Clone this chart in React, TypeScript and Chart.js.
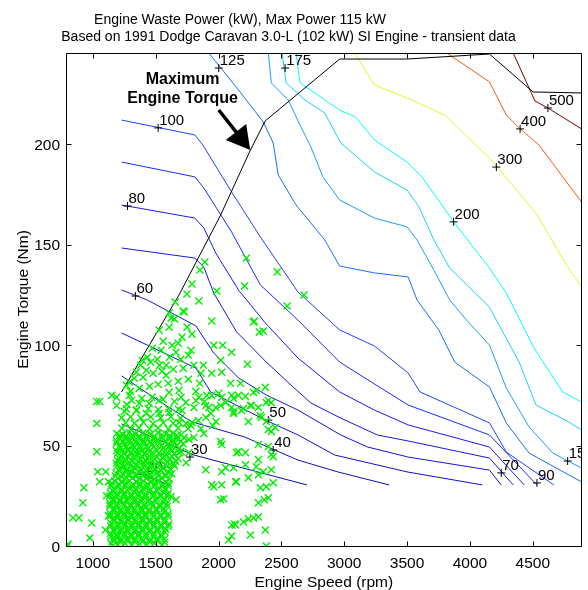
import React, { useEffect, useRef } from 'react';
import { Chart, registerables } from 'chart.js';

Chart.register(...registerables);

// ---------- axes ----------
const xTicks = [1000, 1500, 2000, 2500, 3000, 3500, 4000, 4500];
const yTicks = [0, 50, 100, 150, 200];
const xRange = [787, 4888];
const yRange = [0, 245.5];

const titleLine1 = 'Engine Waste Power (kW), Max Power 115 kW';
const titleLine2 = 'Based on 1991 Dodge Caravan 3.0-L (102 kW) SI Engine - transient data';
const xTitle = 'Engine Speed (rpm)';
const yTitle = 'Engine Torque (Nm)';

// ---------- contour lines (rpm, Nm) ----------
const contourLevels = [20, 30, 40, 50, 60, 70, 80, 90, 100, 125, 150, 175, 200, 300, 400, 500];
const contourColors = ['#0a0a9a', '#0c0cab', '#0f0fbd', '#1111cc', '#1414db', '#1717e8', '#1a1af5', '#1a2cff', '#1f44ff', '#1a6eff', '#1aa0ff', '#1ad2ff', '#00ffff', '#d4ff2b', '#ff5a10', '#800000'];

const c20 = [[1229, 38.8], [1615, 30.4]];
const c30 = [[1229, 60.8], [1804, 45.3], [2703, 30.4]];
const c40 = [[1229, 84.7], [1552, 71.2], [1789, 61.8], [2207, 54.3], [2632, 42.8], [2948, 36.9], [3358, 30.4]];
const c50 = [[1229, 106.1], [1820, 88.6], [1938, 76.7], [2372, 62.7], [2632, 55.3], [2924, 45.3], [3500, 36.9], [4099, 30.4]];
const c60 = [[1229, 127.5], [1434, 122.5], [1820, 109.6], [1962, 96.1], [2159, 83.7], [2380, 75.2], [2632, 67.7], [2972, 55.3], [3185, 49.3], [3508, 44.3], [4155, 37.8], [4249, 30.4]];
const c70 = [[1229, 148.4], [1812, 143.4], [1883, 138.9], [1962, 126.0], [2144, 106.6], [2380, 91.6], [2593, 79.2], [2735, 71.2], [2972, 63.7], [3263, 55.3], [3508, 52.3], [4155, 43.8], [4344, 30.4]];
const c80 = [[1229, 169.8], [1812, 163.3], [1883, 158.4], [1978, 145.9], [2159, 127.5], [2372, 111.1], [2632, 93.6], [2964, 76.7], [3240, 67.7], [3508, 60.3], [4155, 49.3], [4431, 30.4]];
const c90 = [[1229, 191.2], [1812, 183.8], [1883, 178.3], [2104, 156.4], [2333, 130.0], [2632, 112.5], [2964, 91.6], [3240, 80.7], [3508, 70.2], [4155, 55.3], [4533, 30.4]];
const c100 = [[1229, 212.1], [1812, 204.7], [1875, 199.7], [2104, 176.3], [2333, 153.9], [2632, 126.5], [2964, 107.6], [3240, 99.6], [3508, 86.2], [3603, 76.7], [4155, 61.3], [4289, 46.8], [4667, 30.4]];
const c125 = [[1923, 245.5], [2159, 227.1], [2356, 211.2], [2435, 200.7], [2475, 184.8], [2617, 169.8], [2845, 152.4], [2964, 139.4], [3240, 136.0], [3508, 134.0], [3579, 122.5], [3752, 107.6], [3879, 91.6], [4155, 79.2], [4289, 61.3], [4470, 46.3], [4888, 31.9]];
const c150 = [[2396, 245.5], [2420, 230.6], [2554, 222.1], [2648, 209.7], [2735, 198.7], [2830, 183.8], [2964, 172.3], [3240, 163.3], [3500, 158.9], [3579, 152.4], [3713, 137.4], [3839, 122.5], [3973, 112.5], [4155, 100.1], [4289, 78.7], [4470, 59.3], [4659, 46.3], [4888, 38.8]];
const c175 = [[2506, 245.5], [2538, 230.6], [2688, 222.1], [2845, 215.6], [2972, 200.7], [3240, 186.3], [3500, 177.3], [3595, 168.8], [3713, 152.4], [3839, 138.4], [4155, 119.0], [4210, 112.5], [4391, 91.6], [4525, 70.2], [4785, 61.8], [4888, 57.8]];
const c200 = [[2617, 245.5], [2648, 230.6], [2964, 217.1], [3090, 213.6], [3240, 202.2], [3500, 191.2], [3618, 183.8], [3871, 161.4], [4155, 138.4], [4289, 126.0], [4509, 98.6], [4738, 76.7], [4888, 71.7]];
const c300 = [[3082, 245.5], [3240, 229.6], [3500, 223.1], [3800, 214.6], [4155, 193.2], [4525, 165.8], [4777, 138.9], [4888, 129.0]];
const c400 = [[3816, 245.5], [4155, 231.1], [4289, 214.6], [4399, 207.7], [4549, 199.7], [4738, 183.8], [4888, 171.3]];
const c500 = [[4344, 245.5], [4517, 221.6], [4620, 218.1], [4888, 207.7]];
const contourLines = [c20, c30, c40, c50, c60, c70, c80, c90, c100, c125, c150, c175, c200, c300, c400, c500];

// contour labels ('+' position)
const labelTexts = ['125', '175', '100', '80', '60', '50', '40', '30', '20', '70', '90', '150', '200', '300', '400', '500'];
const labelRpm = [2002, 2530, 1520, 1276, 1339, 2396, 2435, 1773, 1418, 4249, 4533, 4777, 3870, 4210, 4399, 4620];
const labelNm = [238, 238, 208.2, 169.3, 124.5, 62.7, 47.8, 44.3, 35.4, 36.4, 31.4, 42.3, 161.4, 188.7, 207.7, 218.1];

// maximum torque curve
const maxTorque = [[1229, 76.7], [1686, 125.0], [2017, 164.8], [2254, 197.2], [2372, 211.7], [2964, 242.5], [3500, 242.5], [4155, 245.0], [4502, 226.1], [4888, 225.6]];

// annotation
const annotationLines = ['Maximum', 'Engine Torque'];
const annotationAt = [[1714, 229.9], [1714, 220.5]];
const arrowTail = [2002, 217.1];
const arrowTip = [2252, 197.2];

// transient operating points (rpm, Nm)
const operatingPoints = [
  [795, 0], [803, 1], [842, 14], [890, 14], [921, 21.5], [992, 11.5], [976, 4], [1032, 61], [1032, 47], [1039, 37], [1103, 37], [1055, 32], [1126, 32], [1158, 0], [1055, 72], [1032, 72], [1150, 75], [1189, 74], [1189, 70], [1252, 67], [929, 29], [1110, 25], [1125, 15], [1100, 8], [1135, 20],
  [1891, 141.4], [1852, 137.4], [2222, 143.4], [2467, 136.5], [1789, 130.5], [2207, 129.5], [1986, 127], [2680, 125], [2546, 119.5], [1655, 121.5], [1749, 125.5], [1844, 122], [1718, 117], [1607, 116], [1623, 113.5], [1946, 112], [2285, 112], [2325, 106.5], [2356, 107], [1607, 109], [1789, 105.5], [1710, 104], [1528, 107.5],
  [1962, 100], [2033, 100], [2104, 96.5], [1781, 97.5], [1631, 100], [1662, 96.5], [1544, 97.5], [1473, 98.5], [1434, 94], [1394, 92.5], [1513, 93], [2230, 90.5], [2017, 92.5], [1804, 90], [1860, 86], [1946, 86], [2025, 86.5], [1584, 90], [1584, 85], [1426, 87.5], [1347, 86.5], [1292, 81.5], [1268, 80],
  [2096, 81], [2175, 81], [2301, 77.5], [2372, 79], [2380, 71.5], [2420, 71.5], [2214, 74.5], [2159, 75], [2104, 75], [2002, 76], [1907, 75], [1820, 77], [1686, 77.5], [1607, 76.5], [1528, 72.5], [1449, 71], [1371, 71], [1292, 75], [1347, 67.5], [1426, 66], [1528, 66], [1607, 66.5], [1710, 67.5], [1804, 69], [1899, 70], [1978, 69], [2057, 71.5], [2120, 66], [2183, 67.5], [2254, 70], [2317, 69], [2333, 65],
  [1726, 116.5], [2278, 111.5], [1946, 75], [2025, 74], [2120, 73.5], [2278, 76.5], [2396, 72.5], [1702, 74], [1844, 74], [1923, 69], [2017, 70], [2104, 69], [2199, 68.5],
  [1686, 61.5], [1742, 61], [1789, 61.5], [1883, 56], [2017, 52], [2025, 50.5], [2143, 46.5], [2214, 46.5], [2317, 50.5], [2396, 58], [2380, 62], [2341, 64], [2451, 59], [2238, 62], [1765, 53], [1726, 54], [1804, 54], [1686, 46.5], [1765, 46.5], [1742, 41.5],
  [1899, 38], [2025, 37], [2120, 39], [2214, 40.5], [2317, 43], [2420, 38], [2356, 37], [1946, 30.5], [2025, 30.5], [2143, 32], [2238, 34], [2317, 35.5], [2435, 31.5], [2380, 29.5], [2120, 67], [2262, 70], [2420, 57], [2396, 49.5], [2159, 47], [2420, 45.5], [2435, 44.5], [2057, 39], [2301, 39.5], [1962, 29.5], [2136, 32], [2333, 29],
  [2017, 23], [2041, 23.5], [2317, 21.5], [2396, 24], [2364, 23], [2104, 10.5], [2136, 10.5], [2199, 12], [2238, 13.5], [2278, 14], [2317, 14.5], [2254, 5.5], [2372, 8], [2080, 3], [2380, 0], [1662, 23], [1623, 24.5], [1954, 60], [2128, 11], [2104, 5],
  [1270, 70.5], [1310, 72.5], [1390, 73.5], [1470, 74], [1560, 73], [1650, 72], [1740, 71.5], [1820, 72.5], [1890, 72],
  [1300, 77], [1370, 78.5], [1450, 79.5], [1520, 80.5], [1600, 81], [1680, 82], [1760, 83], [1850, 81],
  [1330, 83.5], [1400, 84], [1480, 86], [1550, 87], [1640, 88], [1720, 88.5], [1880, 90],
  [1380, 90], [1460, 91.5], [1530, 90], [1610, 94], [1700, 93], [1760, 95],
  [1560, 102], [1680, 101], [1750, 109], [1650, 113],
  [1780, 60], [1840, 62.5], [1900, 64], [1860, 58.5], [1940, 66], [1980, 62],
  [1231, 58.6], [1302, 58.1], [1368, 58.9], [1452, 58.3], [1519, 58.8], [1601, 58.2], [1679, 58.7], [1758, 58.4],
  [1262, 61.3], [1331, 61.1], [1402, 61.6], [1479, 60.9], [1561, 61.4], [1638, 61.2],
  [1229, 63.9], [1301, 64.3], [1382, 63.7], [1461, 64.2], [1539, 63.8], [1621, 64.4], [1698, 63.6],
  [1268, 68.2], [1349, 67.8], [1442, 68.4], [1521, 67.9], [1603, 68.3], [1681, 68.1],
  [1190, 56], [1238, 55.5], [1291, 56.5], [1342, 55.8], [1398, 56.2], [1461, 55.6], [1519, 56.4], [1583, 55.9], [1641, 56.3], [1702, 55.4],
  [1215, 55], [1268, 54.7], [1316, 55.2], [1370, 54.8], [1429, 55.1], [1490, 54.6], [1550, 55.3], [1612, 54.9], [1670, 55.1],
  [1214, 53.6], [1266, 53.2], [1318, 53.9], [1372, 53.4], [1431, 53.7], [1488, 53.1], [1552, 53.8], [1609, 53.3], [1668, 53.6],
  [1190, 52.3], [1240, 52.0], [1293, 52.6], [1345, 52.1], [1400, 52.4], [1458, 51.9], [1520, 52.5], [1578, 52.2], [1638, 52.4], [1700, 52.0],
  [1188, 51.2], [1251, 50.8], [1302, 51.4], [1353, 50.9], [1411, 51.3], [1469, 50.7], [1532, 51.1], [1596, 50.6], [1652, 51.3], [1718, 50.9],
  [1213, 49.9], [1265, 49.5], [1318, 50.1], [1372, 49.6], [1428, 49.8], [1486, 49.4], [1548, 50.0], [1606, 49.7], [1665, 49.9],
  [1219, 48.7], [1276, 48.2], [1331, 48.9], [1384, 48.4], [1442, 48.6], [1501, 48.1], [1561, 48.8], [1619, 48.3], [1689, 48.5],
  [1190, 47.4], [1233, 47.1], [1287, 47.6], [1340, 47.0], [1396, 47.3], [1452, 47.1], [1511, 47.5], [1570, 46.9], [1628, 47.2], [1700, 47.0],
  [1196, 46.2], [1247, 45.8], [1299, 46.4], [1352, 45.7], [1409, 46.1], [1466, 45.9], [1526, 46.3], [1584, 45.6], [1647, 46.0],
  [1222, 44.9], [1277, 44.5], [1334, 45.0], [1393, 44.6], [1450, 44.8], [1509, 44.4], [1570, 44.9], [1630, 44.7],
  [1211, 43.7], [1263, 43.2], [1321, 43.8], [1379, 43.3], [1436, 43.6], [1494, 43.1], [1556, 43.7], [1613, 43.4], [1679, 43.5],
  [1198, 42.4], [1255, 42.0], [1310, 42.5], [1364, 42.0], [1420, 42.3], [1478, 42.1], [1537, 42.6], [1595, 41.9], [1660, 42.2],
  [1189, 41.2], [1242, 40.8], [1296, 41.3], [1349, 40.7], [1406, 41.1], [1462, 40.9], [1521, 41.4], [1579, 40.6], [1641, 41.0],
  [1193, 39.9], [1244, 39.5], [1298, 40.0], [1354, 39.6], [1410, 39.9], [1469, 39.4], [1529, 39.9], [1590, 39.7], [1650, 39.8],
  [1216, 38.6], [1271, 38.2], [1326, 38.8], [1381, 38.3], [1439, 38.7], [1499, 38.1], [1559, 38.6], [1618, 38.4],
  [1212, 37.4], [1265, 37.0], [1318, 37.5], [1373, 36.9], [1428, 37.3], [1485, 37.1], [1544, 37.6], [1601, 36.9],
  [1186, 36.2], [1239, 35.8], [1291, 36.3], [1346, 35.7], [1401, 36.1], [1456, 35.9], [1514, 36.4], [1573, 35.6], [1628, 36.0],
  [1180, 34.9], [1230, 34.5], [1288, 35.0], [1343, 34.6], [1400, 34.9], [1460, 34.4], [1520, 34.9], [1580, 34.7],
  [1201, 33.6], [1259, 33.2], [1316, 33.8], [1371, 33.3], [1429, 33.7], [1489, 33.1], [1551, 33.6], [1609, 33.4],
  [1175, 32.4], [1235, 32.0], [1292, 32.5], [1348, 32.0], [1404, 32.3], [1464, 32.1], [1525, 32.6], [1580, 31.9],
  [1152, 31.2], [1209, 30.8], [1266, 31.3], [1321, 30.7], [1376, 31.1], [1434, 30.9], [1496, 31.4], [1554, 30.6], [1601, 31.0],
  [1145, 29.9], [1200, 29.5], [1258, 30.0], [1315, 29.6], [1372, 29.9], [1430, 29.4], [1490, 29.9], [1550, 29.7], [1600, 29.8],
  [1171, 28.6], [1229, 28.2], [1286, 28.8], [1344, 28.3], [1401, 28.7], [1459, 28.1], [1521, 28.6], [1579, 28.4],
  [1160, 27.4], [1222, 27.0], [1278, 27.5], [1333, 26.9], [1390, 27.3], [1450, 27.1], [1510, 27.6], [1568, 26.9],
  [1141, 26.2], [1196, 25.8], [1251, 26.3], [1306, 25.7], [1361, 26.1], [1419, 25.9], [1481, 26.4], [1539, 25.6], [1598, 26.0],
  [1135, 24.9], [1190, 24.5], [1248, 25.0], [1305, 24.6], [1362, 24.9], [1420, 24.4], [1480, 24.9], [1540, 24.7], [1595, 24.8],
  [1161, 23.6], [1219, 23.2], [1276, 23.8], [1334, 23.3], [1391, 23.7], [1451, 23.1], [1509, 23.6], [1571, 23.4],
  [1163, 22.4], [1218, 22.0], [1273, 22.5], [1328, 22.0], [1384, 22.3], [1440, 22.1], [1500, 22.6], [1560, 21.9],
  [1136, 21.2], [1191, 20.8], [1246, 21.3], [1301, 20.7], [1356, 21.1], [1411, 20.9], [1469, 21.4], [1531, 20.6], [1589, 21.0],
  [1140, 19.9], [1193, 19.5], [1248, 20.0], [1303, 19.6], [1358, 19.9], [1416, 19.4], [1476, 19.9], [1536, 19.7], [1592, 19.8],
  [1166, 18.6], [1221, 18.2], [1274, 18.8], [1331, 18.3], [1386, 18.7], [1444, 18.1], [1506, 18.6], [1566, 18.4],
  [1168, 17.4], [1223, 17.0], [1278, 17.5], [1333, 16.9], [1390, 17.3], [1448, 17.1], [1508, 17.6], [1568, 16.9],
  [1139, 16.2], [1196, 15.8], [1251, 16.3], [1304, 15.7], [1361, 16.1], [1419, 15.9], [1481, 16.4], [1541, 15.6], [1599, 16.0],
  [1140, 14.9], [1194, 14.5], [1252, 15.0], [1306, 14.6], [1362, 14.9], [1421, 14.4], [1481, 14.9], [1540, 14.7], [1598, 14.8],
  [1166, 13.6], [1224, 13.2], [1281, 13.8], [1336, 13.3], [1394, 13.7], [1451, 13.1], [1509, 13.6], [1571, 13.4],
  [1170, 12.4], [1226, 12.0], [1282, 12.5], [1338, 12.0], [1395, 12.3], [1452, 12.1], [1512, 12.6], [1572, 11.9],
  [1146, 11.2], [1201, 10.8], [1254, 11.3], [1311, 10.7], [1366, 11.1], [1424, 10.9], [1486, 11.4], [1544, 10.6], [1604, 11.0],
  [1143, 9.9], [1198, 9.5], [1252, 10.0], [1309, 9.6], [1366, 9.9], [1424, 9.4], [1484, 9.9], [1544, 9.7], [1600, 9.8],
  [1171, 8.6], [1226, 8.2], [1279, 8.8], [1339, 8.3], [1396, 8.7], [1454, 8.1], [1516, 8.6], [1579, 8.4],
  [1168, 7.4], [1222, 7.0], [1278, 7.5], [1336, 6.9], [1394, 7.3], [1453, 7.1], [1514, 7.6], [1574, 6.9],
  [1141, 6.2], [1194, 5.8], [1251, 6.3], [1306, 5.7], [1364, 6.1], [1424, 5.9], [1486, 6.4], [1546, 5.6],
  [1143, 4.9], [1196, 4.5], [1250, 5.0], [1306, 4.6], [1364, 4.9], [1424, 4.4], [1484, 4.9], [1546, 4.7],
  [1166, 3.6], [1221, 3.2], [1276, 3.8], [1334, 3.3], [1391, 3.7], [1451, 3.1], [1511, 3.6], [1569, 3.4],
  [1168, 2.4], [1222, 2.0], [1278, 2.5], [1336, 2.0], [1394, 2.3], [1452, 2.1], [1512, 2.6], [1570, 1.9],
  [1146, 1.2], [1199, 0.8], [1256, 1.3], [1309, 0.7], [1371, 1.1], [1429, 0.9], [1491, 1.4], [1551, 0.6],
];

const FONT = '"Liberation Sans", Arial, Helvetica, sans-serif';

const toXY = (arr: number[][]) => arr.map((p) => ({ x: p[0], y: p[1] }));

const overlayPlugin = {
  id: 'overlay',
  afterDatasetDraw(chart: any, args: any) {
    if (args.index !== 1) return;
    const { ctx, chartArea: a, scales } = chart;
    const xs = scales.x;
    const ys = scales.y;
    ctx.save();
    ctx.beginPath();
    ctx.rect(a.left, a.top, a.right - a.left, a.bottom - a.top);
    ctx.clip();
    ctx.fillStyle = '#000';
    ctx.font = `15px ${FONT}`;
    ctx.textAlign = 'left';
    ctx.textBaseline = 'alphabetic';
    labelTexts.forEach((t, i) => {
      const px = xs.getPixelForValue(labelRpm[i]);
      const py = ys.getPixelForValue(labelNm[i]);
      ctx.fillText(t, px + 1, py - 3);
    });
    ctx.restore();
  },
  afterDraw(chart: any) {
    const { ctx, chartArea: a, scales } = chart;
    const xs = scales.x;
    const ys = scales.y;
    ctx.save();
    // annotation text
    ctx.fillStyle = '#000';
    ctx.font = `bold 16px ${FONT}`;
    ctx.textAlign = 'center';
    ctx.textBaseline = 'alphabetic';
    annotationLines.forEach((t, i) => {
      ctx.fillText(t, xs.getPixelForValue(annotationAt[i][0]), ys.getPixelForValue(annotationAt[i][1]));
    });
    // arrow
    const tx = xs.getPixelForValue(arrowTail[0]);
    const ty = ys.getPixelForValue(arrowTail[1]);
    const hx = xs.getPixelForValue(arrowTip[0]);
    const hy = ys.getPixelForValue(arrowTip[1]);
    const ang = Math.atan2(hy - ty, hx - tx);
    const headLen = 23;
    const headHalf = 13;
    const bx = hx - headLen * Math.cos(ang);
    const by = hy - headLen * Math.sin(ang);
    ctx.strokeStyle = '#000';
    ctx.lineWidth = 3.5;
    ctx.beginPath();
    ctx.moveTo(tx, ty);
    ctx.lineTo(bx + Math.cos(ang), by + Math.sin(ang));
    ctx.stroke();
    ctx.beginPath();
    ctx.moveTo(hx, hy);
    ctx.lineTo(bx - headHalf * Math.sin(ang), by + headHalf * Math.cos(ang));
    ctx.lineTo(bx + headHalf * Math.sin(ang), by - headHalf * Math.cos(ang));
    ctx.closePath();
    ctx.fill();

    // axes box
    ctx.lineWidth = 1;
    const L = Math.floor(a.left) + 0.5;
    const R = Math.floor(a.right) + 0.5;
    const T = Math.floor(a.top) + 0.5;
    const B = Math.floor(a.bottom) + 0.5;
    ctx.beginPath();
    ctx.moveTo(L, T);
    ctx.lineTo(R, T);
    ctx.lineTo(R, B);
    ctx.lineTo(L, B);
    ctx.closePath();
    ctx.stroke();
    const tl = 5;
    ctx.beginPath();
    xTicks.forEach((v) => {
      const px = Math.round(xs.getPixelForValue(v)) + 0.5;
      ctx.moveTo(px, B);
      ctx.lineTo(px, B - tl);
      ctx.moveTo(px, T);
      ctx.lineTo(px, T + tl);
    });
    yTicks.forEach((v) => {
      const py = Math.round(ys.getPixelForValue(v)) + 0.5;
      ctx.moveTo(L, py);
      ctx.lineTo(L + tl, py);
      ctx.moveTo(R, py);
      ctx.lineTo(R - tl, py);
    });
    ctx.stroke();

    // tick labels
    ctx.font = `15.5px ${FONT}`;
    ctx.textAlign = 'center';
    xTicks.forEach((v) => {
      ctx.fillText(String(v), xs.getPixelForValue(v), 568);
    });
    ctx.textAlign = 'right';
    yTicks.forEach((v) => {
      ctx.fillText(String(v), 60, ys.getPixelForValue(v) + 5.5);
    });

    // axis titles
    ctx.textAlign = 'center';
    ctx.fillText(xTitle, (a.left + a.right) / 2, 587);
    ctx.save();
    ctx.translate(28, (a.top + a.bottom) / 2);
    ctx.rotate(-Math.PI / 2);
    ctx.fillText(yTitle, 0, 0);
    ctx.restore();

    // chart title
    ctx.font = `14px ${FONT}`;
    ctx.fillText(titleLine1, 240, 24);
    ctx.fillText(titleLine2, 288.5, 41);
    ctx.restore();
  },
};

export default function App() {
  const ref = useRef<HTMLCanvasElement>(null);
  useEffect(() => {
    const canvas = ref.current;
    if (!canvas) return;
    const contourDatasets = contourLines.map((pts, i) => ({
      label: `${contourLevels[i]} kW`,
      data: toXY(pts),
      showLine: true,
      borderColor: contourColors[i],
      backgroundColor: contourColors[i],
      borderWidth: 1,
      pointRadius: 0,
      tension: 0,
    }));
    const chart = new Chart(canvas, {
      type: 'scatter',
      data: {
        datasets: [
          {
            label: 'Operating points',
            data: toXY(operatingPoints),
            showLine: false,
            pointStyle: 'crossRot',
            pointRadius: 5,
            borderColor: '#00ee00',
            backgroundColor: '#00ee00',
            borderWidth: 1.4,
          },
          {
            label: 'Contour labels',
            data: labelRpm.map((r, i) => ({ x: r, y: labelNm[i] })),
            showLine: false,
            pointStyle: 'cross',
            pointRadius: 4,
            borderColor: '#000',
            backgroundColor: '#000',
            borderWidth: 1,
          },
          {
            label: 'Maximum torque',
            data: toXY(maxTorque),
            showLine: true,
            borderColor: '#000',
            backgroundColor: '#000',
            borderWidth: 1,
            pointRadius: 0,
            tension: 0,
          },
          ...contourDatasets,
        ] as any,
      },
      options: {
        responsive: false,
        animation: false,
        devicePixelRatio: 1,
        layout: { padding: { left: 66, right: 2, top: 53, bottom: 44 } },
        plugins: { legend: { display: false }, tooltip: { enabled: false }, title: { display: false } },
        events: [],
        scales: {
          x: { type: 'linear', min: xRange[0], max: xRange[1], display: false },
          y: { type: 'linear', min: yRange[0], max: yRange[1], display: false },
        },
      } as any,
      plugins: [overlayPlugin],
    });
    return () => chart.destroy();
  }, []);
  return (
    <div style={{ position: 'fixed', left: 0, top: 0, width: 588, height: 590, background: '#fff' }}>
      <canvas ref={ref} width={588} height={590} style={{ display: 'block', width: 588, height: 590 }} />
    </div>
  );
}
